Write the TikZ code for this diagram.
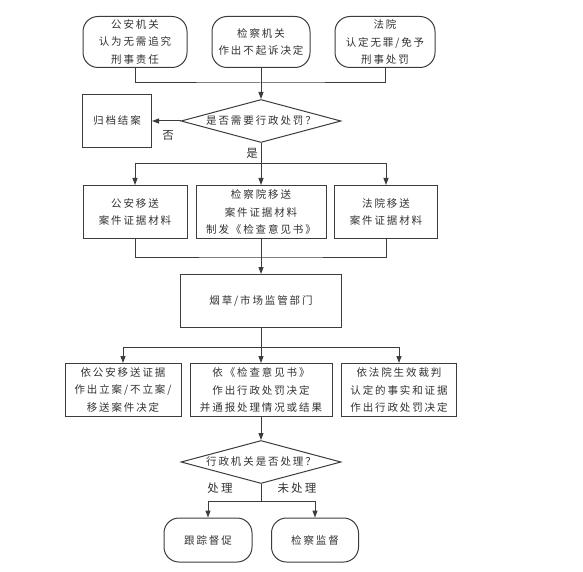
\documentclass[tikz,border=0pt]{standalone}
\usepackage{fontspec}
\usepackage{tikz}
\usetikzlibrary{arrows.meta,shapes.geometric}
\newfontfamily\cjk[LetterSpace=18]{Noto Sans CJK SC}
\definecolor{ctrait}{RGB}{60,60,60}
\definecolor{ctexte}{RGB}{50,50,50}
\tikzset{
  base/.style={draw=ctrait, line width=1pt, align=center, text=ctexte,
    font=\cjk\fontsize{10.5}{17.5}\selectfont, inner sep=0pt},
  term/.style={base, rounded corners=15pt, minimum height=51pt},
  box/.style={base, rectangle, minimum height=53pt},
  decide/.style={base, diamond, aspect=3.7, minimum width=160pt, minimum height=43pt},
  lien/.style={draw=ctrait, line width=1pt},
  lab/.style={text=ctexte, font=\cjk\fontsize{11.5}{13}\selectfont}
}

\begin{document}
\begin{tikzpicture}[x=1pt, y=-1pt, >={Triangle[length=7pt,width=5pt]}]
\useasboundingbox[fill=white] (0,0) rectangle (583,572);
% top row
\node[term, minimum width=104pt] (pol) at (135,42) {公安机关\\认为无需追究\\刑事责任};
\node[term, minimum width=98pt] (pro) at (261,42) {检察机关\\作出不起诉决定};
\node[term, minimum width=100pt] (crt) at (385,42) {法院\\认定无罪/免予\\刑事处罚};
\node[decide] (ask) at (261,121) {是否需要行政处罚？};
\node[box, minimum width=69pt] (arch) at (117,121) {归档结案};
% transfer row
\node[box, minimum width=104pt] (mpol) at (135,212) {公安移送\\案件证据材料};
\node[box, minimum width=130pt] (mpro) at (261,212) {检察院移送\\案件证据材料\\制发《检查意见书》};
\node[box, minimum width=103pt] (mcrt) at (386,212) {法院移送\\案件证据材料};
\node[box, minimum width=161pt] (adm) at (261,301) {烟草/市场监管部门};
% decision row
\node[box, minimum width=116pt] (dpol) at (123,390) {依公安移送证据\\作出立案/不立案/\\移送案件决定};
\node[box, minimum width=142pt] (dpro) at (261,390) {依《检查意见书》\\作出行政处罚决定\\并通报处理情况或结果};
\node[box, minimum width=115pt] (dcrt) at (399,390) {依法院生效裁判\\认定的事实和证据\\作出行政处罚决定};
\node[decide] (done) at (261,462) {行政机关是否处理？};
\node[term, minimum width=88pt, minimum height=44pt] (trk) at (208,540) {跟踪督促};
\node[term, minimum width=87pt, minimum height=44pt] (sup) at (315,540) {检察监督};
% joints
\coordinate (j1) at (261,83);
\coordinate (j2) at (261,164);
\coordinate (j3) at (261,257);
\coordinate (j4) at (261,347);
\coordinate (j5) at (261,501);
% connectors
\draw[lien] (pol.south) |- (j1) -| (crt.south);
\draw[lien,->] (pro.south) -- (ask.north);
\draw[lien,->] (ask.west) -- (arch.east);
\node[lab] (no) at (168,135) {否};
\draw[lien,->] (ask.south) -- (mpro.north);
\node[lab] (yes) at (252,153) {是};
\draw[lien,->] (j2) -| (mpol.north);
\draw[lien,->] (j2) -| (mcrt.north);
\draw[lien] (mpol.south) |- (j3) -| (mcrt.south);
\draw[lien,->] (mpro.south) -- (adm.north);
\draw[lien,->] (adm.south) -- (dpro.north);
\draw[lien,->] (j4) -| (dpol.north);
\draw[lien,->] (j4) -| (dcrt.north);
\draw[lien,->] (dpro.south) -- (done.north);
\draw[lien] (done.south) -- (j5);
\draw[lien,->] (j5) -| (trk.north);
\draw[lien,->] (j5) -| (sup.north);
\node[lab] (act) at (220,488) {处理};
\node[lab] (nact) at (297,488) {未处理};
\end{tikzpicture}
\end{document}
